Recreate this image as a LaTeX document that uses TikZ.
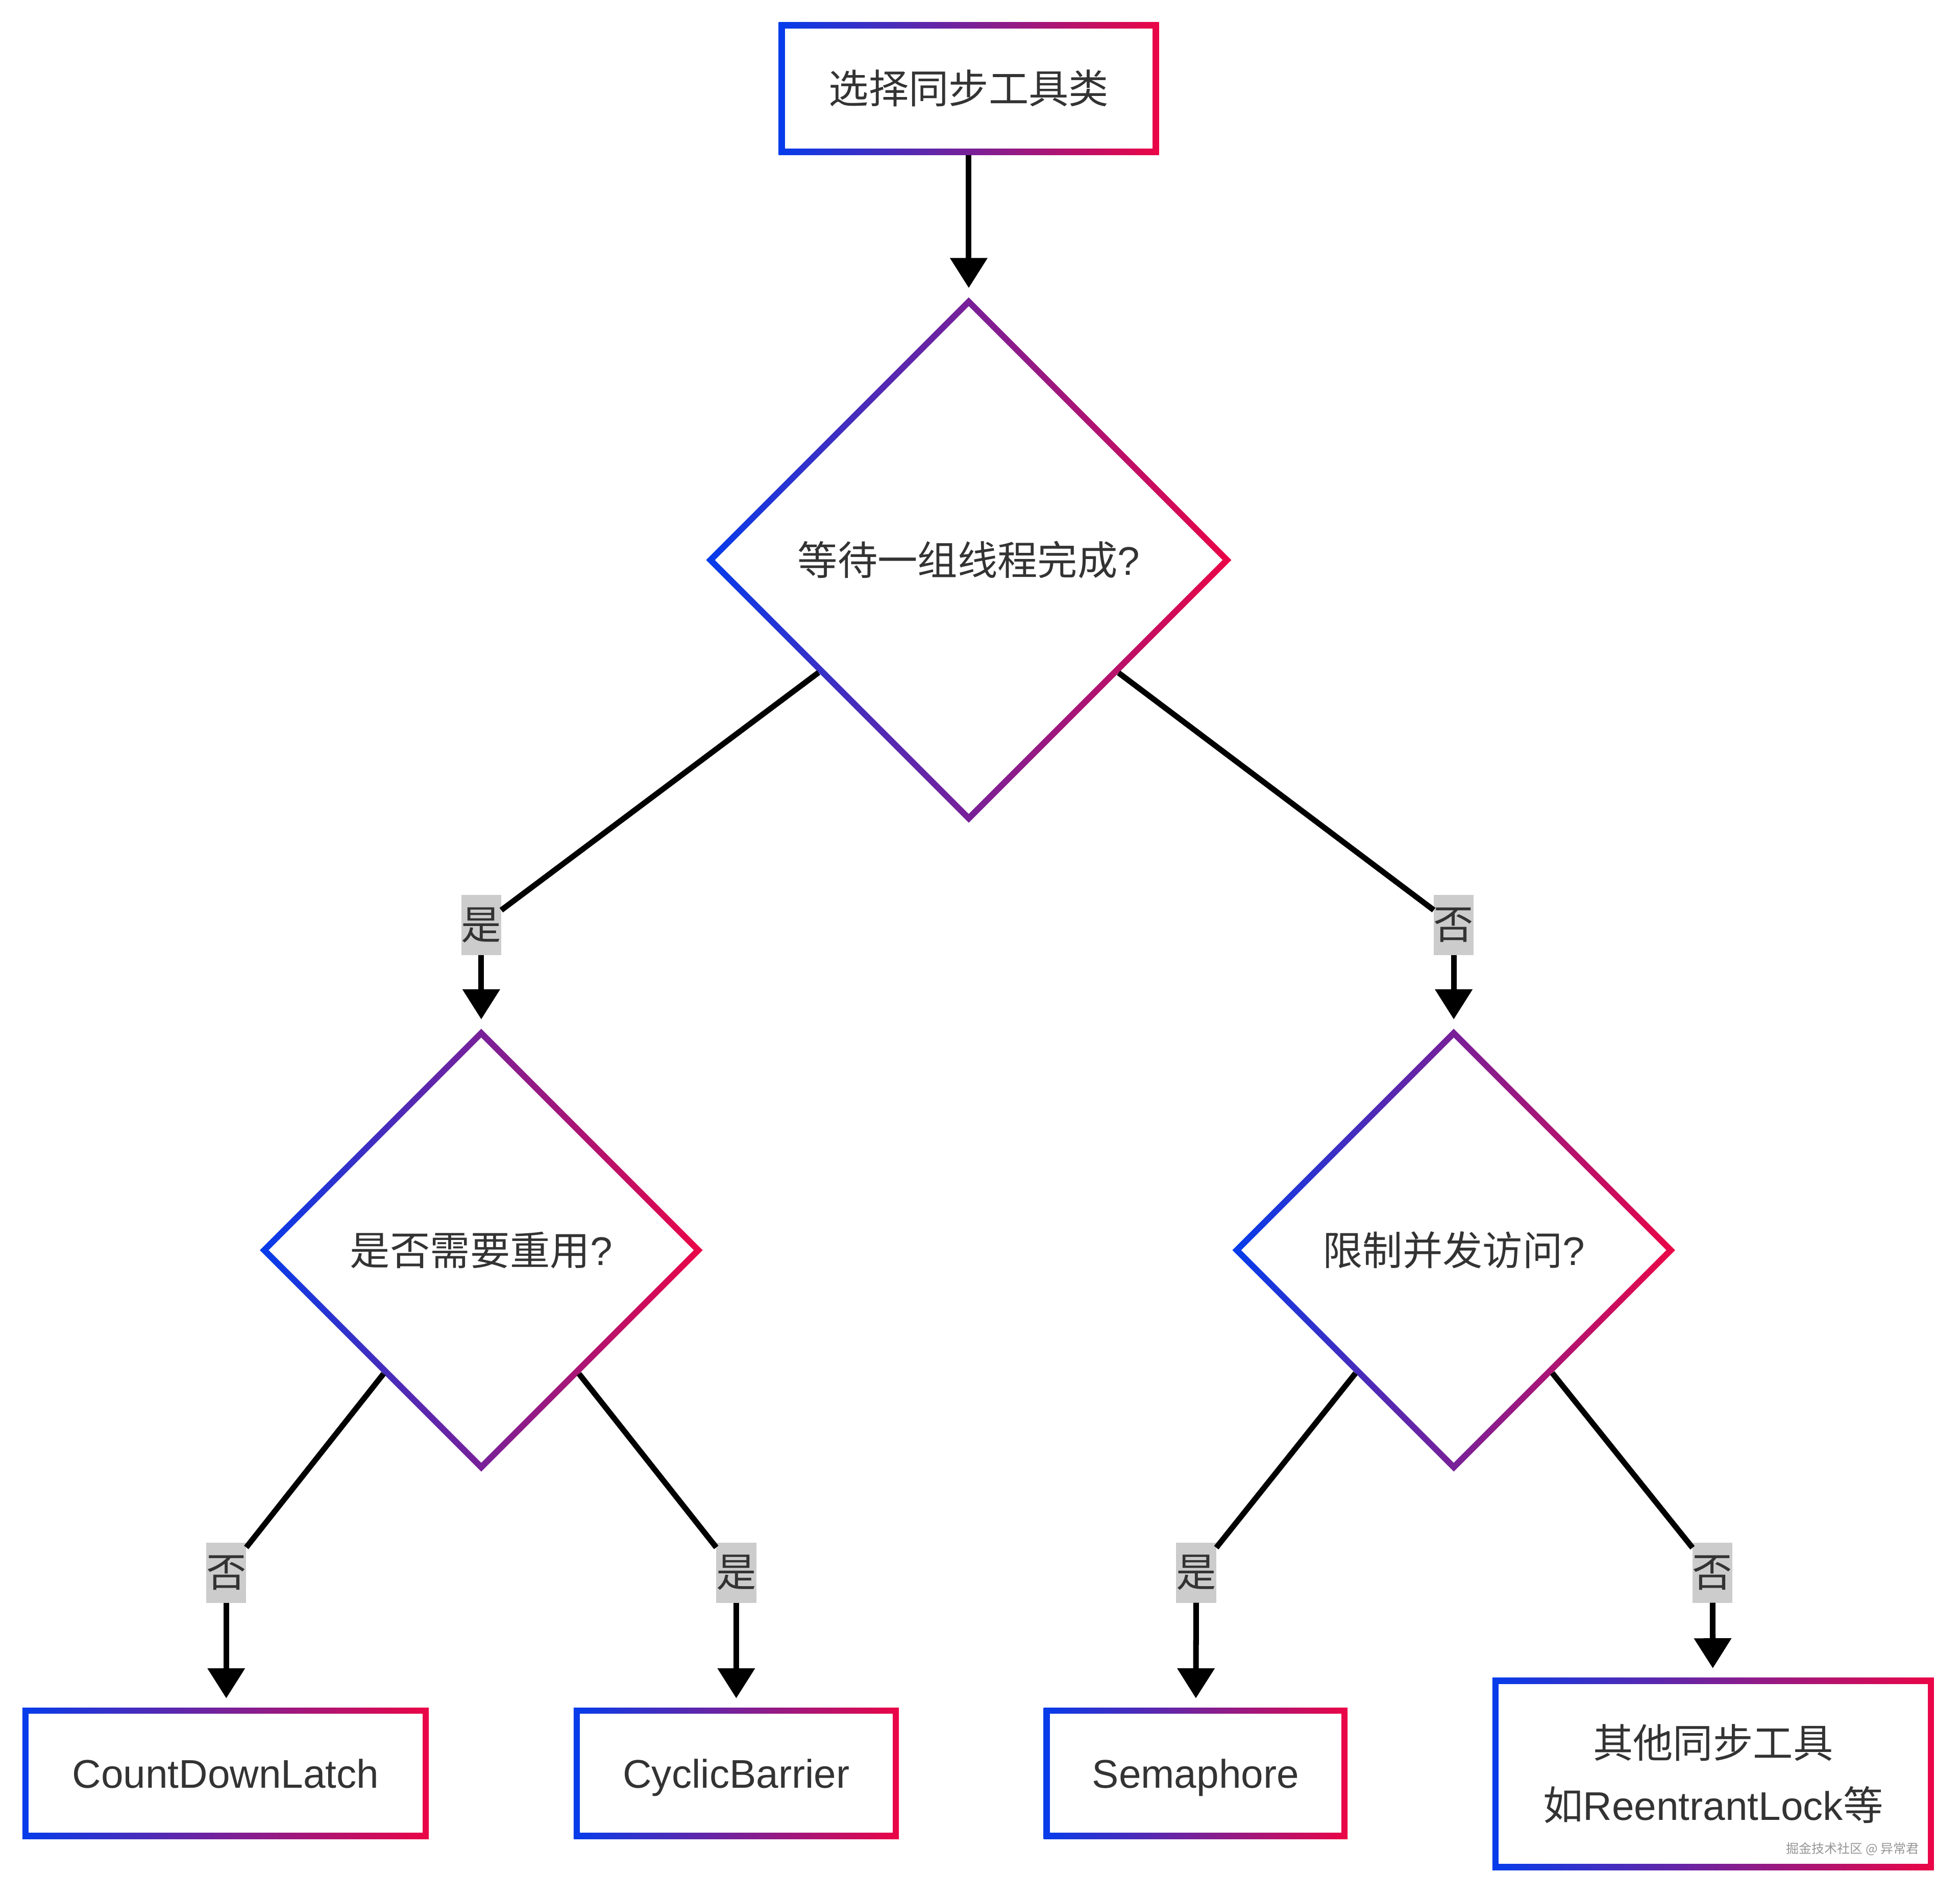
\documentclass[tikz,border=0pt]{standalone}
\usepackage{fontspec}
\setmainfont{Liberation Sans}
\newfontfamily\cjk{Noto Sans CJK SC}
\usetikzlibrary{shapes.geometric}
\usetikzlibrary{arrows.meta}
\definecolor{gblue}{RGB}{5,60,235}
\definecolor{gred}{RGB}{235,5,70}
\definecolor{txt}{RGB}{51,51,51}
\definecolor{lgray}{RGB}{204,204,204}
\definecolor{mgray}{RGB}{150,150,150}
\newcommand{\gbw}{0.05cm}
\newcommand{\gdw}{0.071cm}
\tikzset{gbox/.style = {rectangle, left color=gblue, right color=gred,
                        inner sep=0, outer sep=0, text=txt, align=center,
                        font=\fontsize{9.1pt}{14.2pt}\selectfont,
                        path picture={\fill[white]
                          ([shift={(\gbw,\gbw)}]path picture bounding box.south west) rectangle
                          ([shift={(-\gbw,-\gbw)}]path picture bounding box.north east);}}}
\tikzset{oneline/.style = {text height=0.30cm, text depth=0.07cm}}
\tikzset{gdiam/.style = {diamond, aspect=1, left color=gblue, right color=gred,
                         inner sep=0, outer sep=0, text=txt,
                         font=\fontsize{9.1pt}{14.2pt}\selectfont,
                         path picture={\fill[white]
                           ([yshift=-\gdw]path picture bounding box.north) --
                           ([xshift=-\gdw]path picture bounding box.east) --
                           ([yshift=\gdw]path picture bounding box.south) --
                           ([xshift=\gdw]path picture bounding box.west) -- cycle;}}}
\tikzset{lbl/.style = {fill=lgray, text=txt, inner sep=0, outer sep=0,
                       minimum width=0.32cm, minimum height=0.48cm,
                       font=\fontsize{9.1pt}{11pt}\selectfont\cjk}}
\tikzset{wmark/.style = {text=mgray, inner sep=0, font=\fontsize{2.9pt}{3.5pt}\selectfont\cjk}}
\tikzset{link/.style = {line width=0.045cm}}
\tikzset{flow/.style = {line width=0.045cm, -{Triangle[length=0.24cm,width=0.29cm]},
                        shorten >=0.075cm}}

\begin{document}
\begin{tikzpicture}[x=0.01cm, y=0.01cm]
  \useasboundingbox (0,0) rectangle (1568,1518);

  \node[gbox, oneline, minimum width=3.04cm, minimum height=1.06cm] (start) at (775,1447) {\cjk 选择同步工具类};
  \node[gdiam, minimum width=4.2cm, minimum height=4.2cm] (wait) at (775,1070) {{\cjk 等待一组线程完成}?};

  \node[lbl] (waityes) at (385,778) {是};
  \node[lbl] (waitno) at (1163,778) {否};

  \node[gdiam, minimum width=3.54cm, minimum height=3.54cm] (reuse) at (385,518) {{\cjk 是否需要重用}?};
  \node[gdiam, minimum width=3.54cm, minimum height=3.54cm] (limit) at (1163,518) {{\cjk 限制并发访问}?};

  \node[lbl] (reuseno) at (181,260) {否};
  \node[lbl] (reuseyes) at (589,260) {是};
  \node[lbl] (limityes) at (957,260) {是};
  \node[lbl] (limitno) at (1370,260) {否};

  \node[gbox, oneline, minimum width=3.25cm, minimum height=1.05cm] (latch) at (180.5,99.5) {CountDownLatch};
  \node[gbox, oneline, minimum width=2.60cm, minimum height=1.05cm] (barrier) at (589,99.5) {CyclicBarrier};
  \node[gbox, oneline, minimum width=2.43cm, minimum height=1.05cm] (sema) at (956.5,99.5) {Semaphore};
  \node[gbox, minimum width=3.53cm, minimum height=1.54cm] (other) at (1370.5,99)
    {{\cjk 其他同步工具}\\{\cjk 如}ReentrantLock{\cjk 等}};
  \node[wmark] (mark) at (1482,39) {掘金技术社区 @ 异常君};

  \draw[flow] (start) -- (wait);
  \draw[link] (wait) -- (waityes);
  \draw[flow] (waityes) -- (reuse);
  \draw[link] (wait) -- (waitno);
  \draw[flow] (waitno) -- (limit);

  \draw[link] (reuse) -- (reuseno);
  \draw[flow] (reuseno) -- (latch.north -| reuseno);
  \draw[link] (reuse) -- (reuseyes);
  \draw[flow] (reuseyes) -- (barrier);
  \draw[link] (limit) -- (limityes);
  \draw[flow] (limityes) -- (sema);
  \draw[link] (limit) -- (limitno);
  \draw[flow] (limitno) -- (other);
\end{tikzpicture}
\end{document}
